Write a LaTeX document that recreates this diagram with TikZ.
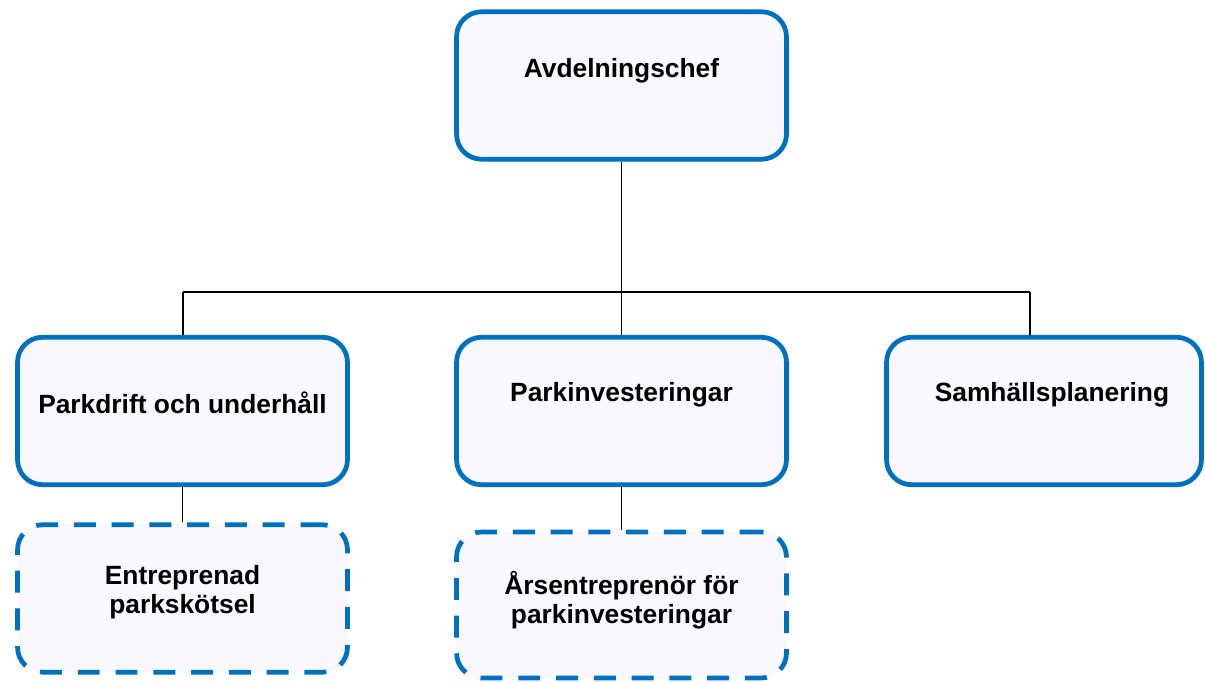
\documentclass[tikz,border=0pt]{standalone}
\usepackage{fontspec}
\setmainfont{Liberation Sans}
\definecolor{orgblue}{HTML}{0070C0}
\definecolor{orgfill}{HTML}{F9F8FE}

\begin{document}
\begin{tikzpicture}[x=0.02cm, y=-0.02cm,
  unit/.style={draw=orgblue, fill=orgfill, line width=2.7pt,
    rounded corners=0.5cm, minimum width=6.6cm, minimum height=2.95cm},
  contractor/.style={unit, dash pattern=on 12.5pt off 9pt},
  title/.style={font=\fontsize{15}{16.5}\selectfont\bfseries, align=center},
  conn/.style={draw=black, line width=0.8pt}]
%\draw[help lines, step=50] (0, 0) grid (1205,682);

\useasboundingbox (0,0) rectangle (1205,682);

\pgfmathsetmacro\busY{292};
\pgfmathsetmacro\busL{183};
\pgfmathsetmacro\busR{1030};

% units
\node [unit, label={[title, yshift=0.29cm]center:Avdelningschef}]
  (chef) at (621.5, 85.5) {};
\node [unit, label={[title, yshift=0.16cm]center:Parkdrift och underhåll}]
  (drift) at (182.5, 411) {};
\node [unit, label={[title, yshift=0.32cm]center:Parkinvesteringar}]
  (inv) at (621.5, 411) {};
\node [unit, minimum width=6.3cm,
  label={[title, xshift=0.16cm, yshift=0.32cm]center:Samhällsplanering}]
  (samh) at (1044, 411) {};

% contractors
\node [contractor, label={[title, yshift=0.13cm]center:Entreprenad\\parkskötsel}]
  (entr) at (182.5, 598.5) {};
\node [contractor, minimum height=2.92cm,
  label={[title, yshift=0.1cm]center:Årsentreprenör för\\parkinvesteringar}]
  (ars) at (621.5, 605) {};

% bus
\coordinate (bl) at (\busL, \busY);
\coordinate (br) at (\busR, \busY);

\draw [conn] (chef.south) to (chef.south |- bl);
\draw [conn] (bl) to (br);
\draw [conn] (bl) to (bl |- drift.north);
\draw [conn] (chef.south |- bl) to (inv.north);
\draw [conn] (br) to (br |- samh.north);

% contractors below
\draw [conn] (drift.south) to (entr.north);
\draw [conn] (inv.south) to (ars.north);

\end{tikzpicture}
\end{document}
